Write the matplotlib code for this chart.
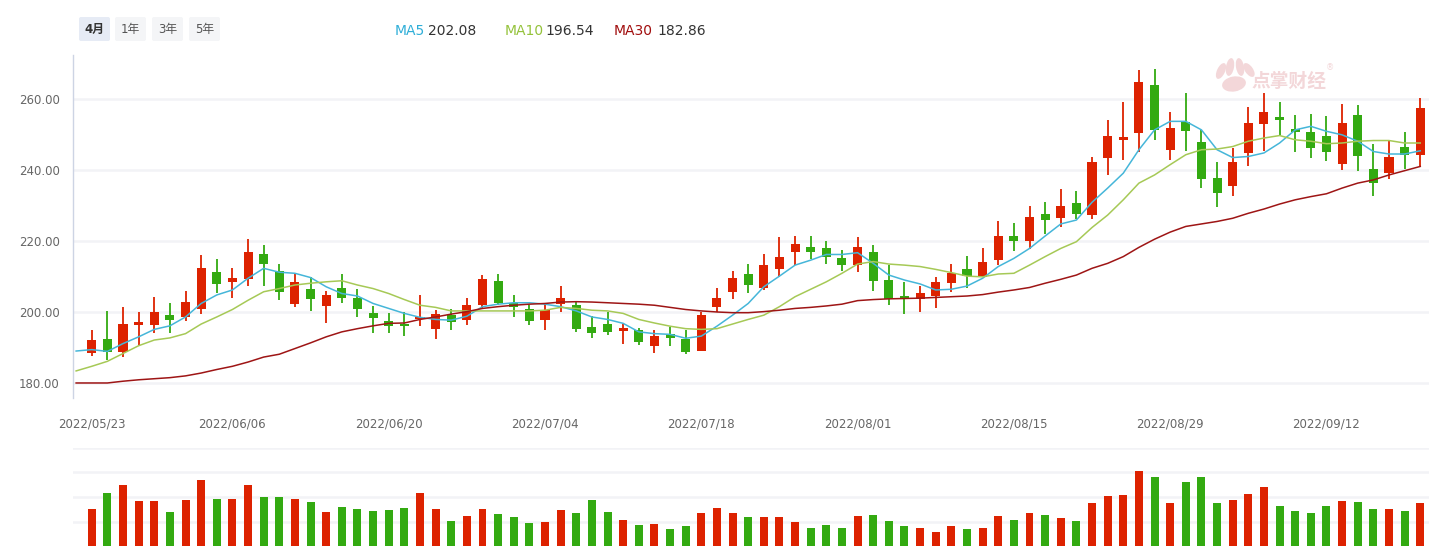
import matplotlib
matplotlib.use('Agg')
import matplotlib.pyplot as plt
from matplotlib.patches import FancyBboxPatch, Ellipse

# DejaVu for latin/digits, Noto CJK for 月/年 and the watermark
plt.rcParams['font.family'] = ['DejaVu Sans', 'Noto Sans CJK SC']
plt.rcParams['axes.unicode_minus'] = False

# ---- data ----
opens = [188.47, 192.52, 188.75, 196.28, 196.28, 199.29, 198.64, 200.89, 211.15, 208.52,
         209.36, 216.24, 211.44, 202.31, 206.35, 201.74, 206.64, 203.81, 199.58, 197.32,
         196.56, 197.98, 195.25, 199.01, 197.69, 201.93, 208.71, 202.59, 200.80, 197.69,
         202.21, 201.93, 195.72, 196.75, 194.68, 194.87, 190.45, 193.74, 192.52, 189.04,
         201.46, 205.69, 210.68, 206.82, 212.19, 216.99, 218.31, 217.93, 215.20, 213.32,
         216.89, 208.99, 204.47, 203.72, 204.56, 208.24, 212.09, 209.93, 214.73, 221.41,
         220.00, 227.62, 226.59, 230.73, 227.44, 243.25, 248.33, 250.31, 264.05, 245.51,
         253.51, 247.95, 237.79, 235.62, 244.66, 252.85, 255.01, 251.53, 250.78, 249.65,
         241.55, 255.58, 240.33, 239.01, 246.54, 244.09]
closes = [192.24, 188.75, 196.75, 197.04, 199.86, 197.69, 202.68, 212.28, 207.95, 209.46,
          216.80, 213.60, 205.69, 208.33, 203.72, 204.66, 204.00, 200.89, 198.35, 196.19,
          196.09, 198.45, 199.39, 197.22, 201.93, 209.27, 202.59, 201.27, 197.51, 200.52,
          203.91, 195.25, 194.12, 194.40, 195.44, 191.58, 193.18, 192.71, 188.75, 199.11,
          203.91, 209.55, 207.67, 213.22, 215.48, 219.15, 216.99, 215.58, 213.32, 218.21,
          208.80, 203.72, 203.72, 205.32, 208.42, 210.87, 210.12, 214.07, 221.41, 220.00,
          226.78, 226.02, 229.88, 227.72, 242.31, 249.65, 249.36, 264.89, 251.15, 251.91,
          250.87, 237.60, 233.65, 242.31, 253.32, 256.42, 253.98, 250.59, 246.07, 244.94,
          253.32, 243.81, 236.47, 243.72, 244.09, 257.55]
highs = [194.87, 200.24, 201.27, 199.86, 204.09, 202.40, 205.88, 216.05, 214.92, 212.28,
         220.47, 218.87, 213.51, 210.78, 209.93, 205.88, 210.68, 206.35, 201.65, 199.58,
         200.05, 204.75, 200.52, 200.80, 203.91, 210.40, 210.68, 204.75, 201.93, 202.59,
         207.29, 202.87, 198.82, 200.05, 196.75, 195.53, 194.87, 195.81, 194.87, 200.05,
         206.73, 211.53, 213.51, 216.33, 221.13, 221.41, 221.41, 220.00, 217.36, 221.13,
         218.87, 213.22, 208.42, 207.29, 209.93, 213.51, 215.76, 218.02, 225.65, 225.08,
         229.88, 231.01, 234.68, 234.12, 243.72, 254.16, 259.06, 268.28, 268.56, 256.42,
         261.60, 251.15, 242.31, 246.26, 257.84, 261.60, 259.06, 255.58, 255.86, 255.29,
         258.68, 258.40, 247.29, 248.24, 250.78, 260.38]
lows = [187.62, 186.40, 187.34, 190.64, 194.12, 194.12, 197.51, 199.39, 205.41, 204.00,
        207.29, 207.29, 203.34, 201.36, 200.33, 196.94, 202.59, 198.64, 194.12, 194.12,
        193.18, 196.00, 192.33, 194.87, 196.28, 200.99, 201.93, 198.64, 196.28, 194.87,
        200.05, 194.31, 192.71, 193.46, 190.92, 190.64, 188.47, 190.45, 188.09, 189.04,
        200.05, 203.53, 205.41, 206.16, 209.74, 213.22, 214.92, 213.60, 211.62, 211.34,
        205.98, 201.93, 199.39, 199.95, 201.18, 205.69, 206.82, 209.93, 213.13, 217.18,
        217.84, 221.88, 224.05, 226.31, 226.21, 238.64, 242.68, 244.94, 248.52, 242.68,
        245.22, 235.06, 229.69, 232.80, 240.99, 245.22, 249.93, 244.94, 243.25, 242.40,
        239.86, 239.58, 232.80, 237.60, 240.14, 240.99]
volumes = [30.4, 43.4, 49.8, 36.8, 36.8, 28.0, 37.6, 53.8, 38.4, 38.4,
           49.8, 40.2, 40.2, 38.4, 36.0, 28.0, 32.0, 30.4, 28.8, 29.6,
           31.2, 43.4, 30.4, 20.8, 24.8, 30.4, 26.4, 24.0, 19.2, 20.0,
           29.6, 27.2, 37.6, 28.0, 21.6, 17.4, 18.4, 14.2, 16.6, 27.2,
           31.2, 27.2, 24.0, 24.0, 24.0, 20.0, 15.0, 17.4, 15.0, 24.8,
           25.6, 20.8, 16.6, 15.0, 11.8, 16.6, 14.2, 15.0, 24.8, 21.6,
           27.2, 25.6, 23.2, 20.8, 35.2, 41.0, 41.8, 61.2, 56.2, 35.2,
           52.2, 56.2, 35.2, 37.6, 42.6, 48.2, 32.8, 28.8, 27.2, 32.8,
           36.8, 36.0, 30.4, 30.4, 28.8, 35.2]

# moving averages start one session before the first candle
ma5 = [189.0, 189.4, 188.9, 191.1, 193.0, 195.1, 196.1, 198.6, 202.4, 204.8,
       206.2, 209.5, 212.3, 211.2, 210.9, 209.7, 207.1, 205.2, 204.5, 202.4,
       201.0, 199.6, 198.5, 197.9, 197.7, 198.8, 201.5, 202.2, 202.6, 202.6,
       202.2, 201.5, 200.3, 198.6, 197.9, 196.8, 194.4, 193.9, 193.7, 192.6,
       193.2, 196.0, 199.1, 202.4, 207.1, 210.1, 213.2, 214.6, 216.2, 216.2,
       216.7, 213.7, 210.4, 209.0, 207.9, 206.2, 206.4, 207.3, 209.5, 212.8,
       215.1, 217.9, 221.4, 224.8, 225.9, 230.9, 234.9, 239.1, 245.7, 251.3,
       253.7, 253.7, 251.3, 245.7, 243.5, 243.8, 244.8, 247.6, 251.3, 252.3,
       250.9, 249.9, 248.1, 245.2, 244.5, 244.5, 245.4]
ma10 = [183.4, 184.7, 186.1, 188.3, 190.5, 192.1, 192.7, 193.9, 196.6, 198.6,
        200.7, 203.3, 205.7, 206.6, 207.6, 208.1, 208.5, 208.8, 207.6, 206.6,
        205.2, 203.5, 201.9, 201.3, 200.3, 200.3, 200.3, 200.3, 200.3, 200.3,
        200.5, 201.3, 201.0, 200.5, 200.3, 199.6, 197.9, 196.9, 196.0, 195.3,
        195.1, 195.3, 196.6, 197.9, 199.1, 201.5, 204.3, 206.4, 208.5, 210.9,
        213.5, 214.2, 213.5, 213.2, 212.8, 212.0, 211.1, 210.1, 209.9, 210.7,
        210.9, 213.2, 215.6, 217.9, 219.8, 223.8, 227.3, 231.6, 236.3, 238.6,
        241.5, 244.3, 245.7, 245.9, 246.6, 248.1, 249.0, 249.7, 248.5, 248.1,
        247.4, 247.6, 248.1, 248.3, 248.3, 247.6, 247.6]
ma30 = [180.0, 180.0, 180.0, 180.5, 180.9, 181.2, 181.5, 182.0, 182.8, 183.8,
        184.7, 185.9, 187.3, 188.1, 189.7, 191.3, 193.0, 194.4, 195.3, 196.1,
        196.8, 196.9, 197.9, 198.6, 199.4, 200.1, 201.0, 201.5, 201.9, 202.2,
        202.4, 202.8, 202.9, 202.8, 202.6, 202.4, 202.2, 201.9, 201.3, 200.7,
        200.3, 200.0, 199.8, 199.8, 200.1, 200.5, 201.0, 201.3, 201.7, 202.2,
        203.2, 203.5, 203.7, 203.8, 203.9, 204.1, 204.3, 204.5, 204.9, 205.6,
        206.2, 206.9, 208.1, 209.2, 210.4, 212.3, 213.7, 215.6, 218.2, 220.5,
        222.5, 224.1, 224.8, 225.5, 226.4, 227.8, 229.0, 230.4, 231.6, 232.5,
        233.3, 234.9, 236.3, 237.2, 238.6, 239.8, 241.0]

date_ticks = ['2022/05/23', '2022/06/06', '2022/06/20', '2022/07/04', '2022/07/18',
              '2022/08/01', '2022/08/15', '2022/08/29', '2022/09/12']
date_tick_idx = [0, 9, 19, 29, 39, 49, 59, 69, 79]
price_ticks = [180, 200, 220, 240, 260]
periods = ['4月', '1年', '3年', '5年']
legend_names = ['MA5', 'MA10', 'MA30']
legend_values = ['202.08', '196.54', '182.86']

UP = '#dd2200'
DOWN = '#33aa11'
MA_COLORS = ['#45b6d9', '#a6c956', '#9e1515']
LEGEND_COLORS = ['#2eaed8', '#94c23a', '#a10d0d']

W, H = 1442, 546
fig = plt.figure(figsize=(W / 100, H / 100), dpi=100)

# overlay in pixel coordinates (drawn first, behind the transparent chart axes)
ov = fig.add_axes([0, 0, 1, 1])
ov.set_xlim(0, W)
ov.set_ylim(H, 0)
ov.axis('off')

# ---- candles ----
ax = fig.add_axes([73 / W, 1 - 398 / H, (1429 - 73) / W, (398 - 55) / H])
ax.patch.set_alpha(0)
xs = list(range(len(opens)))
colors = [UP if c >= o else DOWN for o, c in zip(opens, closes)]
ax.vlines(xs, lows, highs, colors=colors, lw=1.3, zorder=2)
bottoms = [min(o, c) for o, c in zip(opens, closes)]
heights = [max(abs(c - o), 0.6) for o, c in zip(opens, closes)]
ax.bar(xs, heights, bottom=bottoms, width=0.58, color=colors, zorder=2)

ma_x = list(range(-1, len(opens)))
for vals, col in zip([ma5, ma10, ma30], MA_COLORS):
    ax.plot(ma_x, vals, color=col, lw=1.1, zorder=3)

ax.set_xlim(-1.2, 85.56)
ax.set_ylim(175.77, 272.39)
ax.set_yticks(price_ticks)
ax.set_yticklabels([f'{v:.2f}' for v in price_ticks])
ax.set_xticks(date_tick_idx)
ax.set_xticklabels(date_ticks)
ax.tick_params(axis='y', length=0, pad=9.5, labelsize=8.5, labelcolor='#666666')
ax.tick_params(axis='x', length=0, pad=14, labelsize=8.5, labelcolor='#666666')
ax.yaxis.grid(True, color='#f2f3f6', lw=1.8)
ax.set_axisbelow(True)
for side in ['top', 'right', 'bottom']:
    ax.spines[side].set_visible(False)
ax.spines['left'].set_color('#cdd4e4')
ax.spines['left'].set_linewidth(1.0)

# ---- volume ----
vax = fig.add_axes([73 / W, 1 - 546.7 / H, (1429 - 73) / W, (546.7 - 447.7) / H])
vax.patch.set_alpha(0)
vax.bar(xs, volumes, width=0.51, color=colors, zorder=2)
vax.set_xlim(-1.2, 85.56)
vax.set_ylim(0, 80)
vax.set_yticks([20, 40, 60, 80])
vax.set_xticks([])
vax.tick_params(axis='y', length=0, labelleft=False)
vax.yaxis.grid(True, color='#f2f3f6', lw=1.8)
vax.set_axisbelow(True)
for s in vax.spines.values():
    s.set_visible(False)

# ---- buttons, legend, watermark ----
btn_x = [79, 115, 152, 189]
for k, (lab, bx) in enumerate(zip(periods, btn_x)):
    face = '#e6ebf5' if k == 0 else '#f4f5f7'
    ov.add_patch(FancyBboxPatch((bx, 17), 31, 24, boxstyle='round,pad=0,rounding_size=2',
                                fc=face, ec='none'))
    ov.text(bx + 15.5, 29, lab, ha='center', va='center', fontsize=8.5,
            color='#333333' if k == 0 else '#555555',
            fontweight='bold' if k == 0 else 'normal')

name_x = [395, 505, 614]
value_x = [428, 545, 657]
for name, val, nx, vx, col in zip(legend_names, legend_values, name_x, value_x, LEGEND_COLORS):
    ov.text(nx, 31, name, ha='left', va='center', fontsize=10, color=col)
    ov.text(vx, 31, val, ha='left', va='center', fontsize=10, color='#333333')

# faint watermark: rough hand-shaped logo + name
wm = '#f3d7d9'
for cx, cy, w, h, ang in [(1234, 84, 24, 15, -10), (1221, 71, 8, 17, 25),
                          (1230, 67, 8, 18, 10), (1240, 67, 8, 18, -10), (1249, 70, 8, 16, -35)]:
    ov.add_patch(Ellipse((cx, cy), w, h, angle=ang, fc=wm, ec='none'))
ov.text(1289, 81, '点掌财经', ha='center', va='center', fontsize=13.5, fontweight='bold',
        color=wm, family=['Noto Sans CJK SC'])
ov.text(1330, 68, '®', ha='center', va='center', fontsize=6, color=wm)

fig.savefig('out.png', dpi=100)
